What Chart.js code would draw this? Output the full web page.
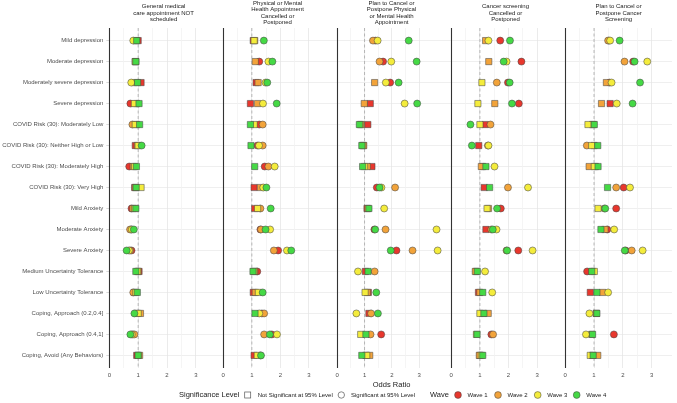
<!DOCTYPE html>
<html>
<head>
<meta charset="utf-8">
<script src="https://cdn.jsdelivr.net/npm/chart.js@4.4.1/dist/chart.umd.min.js"></script>
<style>
  body { margin: 0; background: #fff; }
  #wrap { position: relative; width: 677px; height: 403px; }
</style>
</head>
<body>
<div id="wrap"><canvas id="oddsChart" width="677" height="403"></canvas></div>
<script>
// rows (top to bottom)
const rowLabels = [
  'Mild depression', 'Moderate depression', 'Moderately severe depression', 'Severe depression',
  'COVID Risk (30): Moderately Low', 'COVID Risk (30): Neither High or Low',
  'COVID Risk (30): Moderately High', 'COVID Risk (30): Very High',
  'Mild Anxiety', 'Moderate Anxiety', 'Severe Anxiety',
  'Medium Uncertainty Tolerance', 'Low Uncertainty Tolerance',
  'Coping, Approach (0.2,0.4]', 'Coping, Approach (0.4,1]', 'Coping, Avoid (Any Behaviors)'
];
const panelTitles = [
  ['General medical', 'care appointment NOT', 'scheduled'],
  ['Physical or Mental', 'Health Appointment', 'Cancelled or', 'Postponed'],
  ['Plan to Cancel or', 'Postpone Physical', 'or Mental Health', 'Appointment'],
  ['Cancer screening', 'Cancelled or', 'Postponed'],
  ['Plan to Cancel or', 'Postpone Cancer', 'Screening']
];
const waveNames = ['Wave 1', 'Wave 2', 'Wave 3', 'Wave 4'];
const oddsTicks = [0, 1, 2, 3];

// General medical care appointment NOT scheduled
const genW1 = [1.00, 0.92, 1.10, 0.73, 0.95, 0.90, 0.69, 0.88, 0.77, 0.76, 0.77, 1.03, 0.87, 0.95, 0.82, 0.95];
const genW2 = [0.92, 0.90, 0.87, 0.95, 0.80, 0.97, 0.83, 0.90, 0.82, 0.72, 0.72, 1.00, 0.83, 1.08, 0.87, 1.05];
const genW3 = [0.83, 0.90, 0.76, 0.87, 0.90, 1.00, 0.88, 1.10, 0.88, 0.78, 0.68, 0.98, 0.92, 1.00, 0.78, 1.00];
const genW4 = [0.95, 0.92, 0.98, 1.03, 1.05, 1.12, 0.94, 0.93, 0.92, 0.85, 0.60, 0.92, 0.97, 0.87, 0.73, 1.00];
const genS1 = [0,0,0,1,0,0,1,0,1,1,1,0,0,0,1,0];
const genS2 = [0,0,0,0,1,0,0,0,0,1,1,0,1,0,1,0];
const genS3 = [1,0,1,0,0,0,0,0,0,1,1,0,0,0,1,0];
const genS4 = [0,0,0,0,0,1,0,0,0,1,1,0,0,1,1,0];

// Physical or Mental Health Appointment Cancelled or Postponed
const physW1 = [1.05, 1.26, 1.15, 0.95, 1.26, 1.20, 1.45, 1.08, 1.10, 1.30, 1.92, 1.19, 1.05, 1.35, 1.70, 1.08];
const physW2 = [1.10, 1.12, 1.22, 1.20, 1.38, 1.38, 1.58, 1.30, 1.30, 1.32, 1.77, 1.10, 1.12, 1.43, 1.43, 1.30];
const physW3 = [1.08, 1.58, 1.48, 1.39, 1.08, 1.25, 1.80, 1.40, 1.20, 1.64, 2.23, 1.07, 1.23, 1.26, 1.88, 1.19];
const physW4 = [1.42, 1.72, 1.54, 1.87, 0.95, 0.97, 1.10, 1.51, 1.66, 1.48, 2.38, 1.04, 1.38, 1.11, 1.63, 1.32];
const physS1 = [0,1,0,0,1,1,1,0,0,1,1,1,0,1,1,0];
const physS2 = [0,0,0,0,1,1,1,0,1,1,1,0,0,1,1,1];
const physS3 = [0,1,1,1,0,1,1,1,0,1,1,0,0,1,1,0];
const physS4 = [1,1,1,1,0,0,0,1,1,1,1,0,1,0,1,1];

// Plan to Cancel or Postpone Physical or Mental Health Appointment
const planPhysW1 = [1.40, 1.68, 1.94, 1.21, 1.12, 0.95, 1.27, 1.45, 1.09, 1.36, 2.17, 1.03, 1.14, 1.16, 1.61, 1.05];
const planPhysW2 = [1.31, 1.55, 1.37, 0.99, 0.88, 0.97, 1.10, 2.12, 1.12, 1.77, 2.76, 1.37, 1.10, 1.24, 1.22, 1.19];
const planPhysW3 = [1.48, 1.98, 1.78, 2.47, 0.85, 0.93, 1.00, 1.62, 1.72, 3.64, 3.68, 0.76, 1.02, 0.70, 0.86, 1.08];
const planPhysW4 = [2.62, 2.91, 2.25, 2.93, 0.81, 0.90, 0.93, 1.55, 1.16, 1.39, 1.96, 1.13, 1.43, 1.49, 1.05, 0.90];
const planPhysS1 = [1,1,1,0,0,0,0,1,0,1,1,0,0,0,1,0];
const planPhysS2 = [1,1,0,0,0,0,0,1,0,1,1,1,0,1,1,0];
const planPhysS3 = [1,1,1,1,0,0,0,1,1,1,1,1,0,1,0,0];
const planPhysS4 = [1,1,1,1,0,0,0,1,0,1,1,0,1,1,0,0];

// Cancer screening Cancelled or Postponed
const cancerW1 = [1.71, 2.45, 1.98, 2.36, 1.19, 0.96, 1.10, 1.15, 1.73, 1.21, 2.34, 0.87, 0.95, 1.10, 1.40, 1.00];
const cancerW2 = [1.20, 1.31, 1.59, 1.52, 1.37, 1.28, 1.05, 1.98, 1.30, 1.40, 1.93, 0.84, 1.00, 1.29, 1.46, 0.98];
const cancerW3 = [1.30, 1.93, 1.07, 0.93, 1.00, 1.30, 1.51, 2.68, 1.25, 1.58, 2.84, 1.18, 1.43, 1.00, 0.88, 1.05];
const cancerW4 = [2.05, 1.83, 2.04, 2.12, 0.67, 0.72, 1.21, 1.34, 1.60, 1.45, 1.95, 0.91, 1.10, 1.14, 0.90, 1.10];
const cancerS1 = [1,1,1,1,0,0,0,0,1,0,1,0,0,0,1,0];
const cancerS2 = [0,0,1,0,1,1,0,1,0,1,1,0,0,0,1,0];
const cancerS3 = [1,1,0,0,0,1,1,1,0,1,1,1,1,0,0,0];
const cancerS4 = [1,1,1,1,1,1,0,0,1,1,1,0,0,0,0,0];

// Plan to Cancel or Postpone Cancer Screening
const planCancerW1 = [1.52, 2.36, 1.54, 1.56, 0.95, 1.00, 1.05, 2.03, 1.77, 1.46, 2.10, 0.76, 0.87, 1.08, 1.69, 0.95];
const planCancerW2 = [1.49, 2.06, 1.43, 1.26, 0.98, 0.75, 0.83, 1.77, 1.36, 1.38, 2.31, 0.95, 1.30, 1.08, 0.92, 1.13];
const planCancerW3 = [1.56, 2.85, 1.61, 1.79, 0.79, 0.92, 1.01, 2.25, 1.14, 1.70, 2.69, 1.01, 1.49, 0.84, 0.72, 0.87];
const planCancerW4 = [1.89, 2.41, 2.60, 2.34, 1.01, 1.13, 1.14, 1.47, 1.39, 1.24, 2.07, 0.92, 1.10, 1.10, 0.95, 0.97];
const planCancerS1 = [1,1,1,0,0,0,0,1,1,1,1,1,0,0,1,0];
const planCancerS2 = [1,1,0,0,0,1,0,1,1,0,1,0,0,0,0,0];
const planCancerS3 = [1,1,1,1,0,0,0,1,0,1,1,0,1,1,1,0];
const planCancerS4 = [1,1,1,1,0,0,0,0,1,0,1,0,0,0,0,0];

const waveColors = ['#E8372D', '#F2A33A', '#F4EC3C', '#45D945'];
const FONT = 'Liberation Sans, Arial, sans-serif';

const panels = [
  { id: 'x1', max: 3.76, width: 109.5, vals: [genW1, genW2, genW3, genW4], sig: [genS1, genS2, genS3, genS4] },
  { id: 'x2', max: 3.80, width: 109.5, vals: [physW1, physW2, physW3, physW4], sig: [physS1, physS2, physS3, physS4] },
  { id: 'x3', max: 3.98, width: 109.5, vals: [planPhysW1, planPhysW2, planPhysW3, planPhysW4], sig: [planPhysS1, planPhysS2, planPhysS3, planPhysS4] },
  { id: 'x4', max: 3.79, width: 109.5, vals: [cancerW1, cancerW2, cancerW3, cancerW4], sig: [cancerS1, cancerS2, cancerS3, cancerS4] },
  { id: 'x5', max: 3.71, width: 107.7, vals: [planCancerW1, planCancerW2, planCancerW3, planCancerW4], sig: [planCancerS1, planCancerS2, planCancerS3, planCancerS4] }
];
const GAP = 5.5;

// build datasets: one per panel & wave
const datasets = [];
panels.forEach(p => {
  for (let w = 0; w < 4; w++) {
    datasets.push({
      label: waveNames[w],
      xAxisID: p.id,
      yAxisID: 'y',
      order: 4 - w,
      data: p.vals[w].map((v, i) => ({ x: v, y: i + 1, s: p.sig[w][i] })),
      backgroundColor: waveColors[w],
      borderColor: 'rgba(70,70,70,0.9)',
      borderWidth: 0.6,
      pointStyle: ctx => (ctx.raw && ctx.raw.s ? 'circle' : 'rect'),
      pointRadius: ctx => (ctx.raw && ctx.raw.s ? 3.5 : 4.4),
      pointHoverRadius: ctx => (ctx.raw && ctx.raw.s ? 3.5 : 4.4)
    });
  }
});

// scales
const scales = {
  y: {
    type: 'linear',
    position: 'left',
    reverse: true,
    min: 0.4,
    max: 16.6,
    afterBuildTicks: a => { a.ticks = rowLabels.map((_, i) => ({ value: i + 1 })); },
    afterFit: a => { a.width = 109.3; },
    border: { display: false },
    grid: { color: '#ebebeb', lineWidth: 0.8, drawTicks: true, tickLength: 3, tickColor: '#cfcfcf' },
    ticks: {
      padding: 3,
      color: '#4d4d4d',
      font: { family: FONT, size: 6 },
      autoSkip: false,
      callback: v => rowLabels[v - 1] || ''
    }
  }
};
panels.forEach((p, k) => {
  scales[p.id] = {
    type: 'linear',
    axis: 'x',
    position: 'bottom',
    stack: 'panels',
    stackWeight: p.width,
    min: 0,
    max: p.max,
    afterBuildTicks: a => {
      a.ticks = a.ticks.filter(t => Math.abs(t.value * 2 - Math.round(t.value * 2)) < 1e-6);
    },
    afterFit: a => { a.height = 21; },
    border: { display: false },
    grid: {
      drawTicks: false,
      lineWidth: 0.8,
      color: c => (Number.isInteger(c.tick.value) ? '#e6e6e6' : '#f3f3f3')
    },
    ticks: {
      stepSize: 0.5,
      padding: 4,
      autoSkip: false,
      maxRotation: 0,
      color: '#4d4d4d',
      font: { family: FONT, size: 6 },
      callback: v => (oddsTicks.includes(v) ? String(v) : '')
    },
    title: {
      display: k === 2,
      text: 'Odds Ratio',
      color: '#1a1a1a',
      font: { family: FONT, size: 7.5 },
      padding: { top: 0, bottom: 0 }
    }
  };
  if (k < panels.length - 1) {
    scales['g' + (k + 1)] = {
      type: 'linear',
      axis: 'x',
      position: 'bottom',
      stack: 'panels',
      stackWeight: GAP,
      min: 0,
      max: 1,
      afterFit: a => { a.height = 21; },
      border: { display: false },
      grid: { display: false },
      ticks: { display: false }
    };
  }
});

// reference lines, strip titles and legend
const facetDecor = {
  id: 'facetDecor',
  beforeDatasetsDraw(chart) {
    const { ctx, chartArea } = chart;
    ctx.save();
    panels.forEach(p => {
      const sc = chart.scales[p.id];
      const x0 = Math.round(sc.getPixelForValue(0)) + 0.5;
      ctx.strokeStyle = '#333333';
      ctx.lineWidth = 1.1;
      ctx.setLineDash([]);
      ctx.beginPath(); ctx.moveTo(x0, chartArea.top); ctx.lineTo(x0, chartArea.bottom); ctx.stroke();
      const x1 = sc.getPixelForValue(1);
      ctx.strokeStyle = '#a8a8a8';
      ctx.lineWidth = 0.8;
      ctx.setLineDash([3, 2.5]);
      ctx.beginPath(); ctx.moveTo(x1, chartArea.top); ctx.lineTo(x1, chartArea.bottom); ctx.stroke();
    });
    ctx.restore();
  },
  afterDraw(chart) {
    const { ctx } = chart;
    ctx.save();
    // strip titles
    ctx.fillStyle = '#1a1a1a';
    ctx.font = '6px ' + FONT;
    ctx.textAlign = 'center';
    ctx.textBaseline = 'middle';
    panels.forEach((p, k) => {
      const sc = chart.scales[p.id];
      const cx = (sc.left + sc.right) / 2;
      const lines = panelTitles[k];
      lines.forEach((t, i) => {
        ctx.fillText(t, cx, 13 + (i - (lines.length - 1) / 2) * 6.5);
      });
    });

    // legend
    const ly = 395;
    ctx.textAlign = 'left';
    ctx.fillStyle = '#1a1a1a';
    ctx.font = '7.5px ' + FONT;
    ctx.fillText('Significance Level', 179, ly);
    ctx.fillText('Wave', 430, ly);
    ctx.font = '6px ' + FONT;
    ctx.strokeStyle = '#555555';
    ctx.lineWidth = 0.7;
    ctx.strokeRect(244.7, ly - 3, 6, 6);
    ctx.fillText('Not Significant at 95% Level', 257.7, ly);
    ctx.beginPath(); ctx.arc(341.3, ly, 3.2, 0, Math.PI * 2); ctx.stroke();
    ctx.fillText('Significant at 95% Level', 351, ly);
    const wx = [458, 498, 537.7, 576.7];
    waveNames.forEach((name, i) => {
      ctx.beginPath(); ctx.arc(wx[i], ly, 3.4, 0, Math.PI * 2);
      ctx.fillStyle = waveColors[i]; ctx.fill();
      ctx.strokeStyle = 'rgba(70,70,70,0.9)'; ctx.lineWidth = 0.6; ctx.stroke();
      ctx.fillStyle = '#1a1a1a';
      ctx.fillText(name, wx[i] + 9.5, ly);
    });
    ctx.restore();
  }
};

new Chart(document.getElementById('oddsChart').getContext('2d'), {
  type: 'scatter',
  data: { datasets: datasets },
  options: {
    responsive: false,
    animation: false,
    events: [],
    layout: { padding: { top: 28, bottom: 14, left: 0, right: 0 } },
    plugins: {
      legend: { display: false },
      tooltip: { enabled: false }
    },
    scales: scales
  },
  plugins: [facetDecor]
});
</script>
</body>
</html>
